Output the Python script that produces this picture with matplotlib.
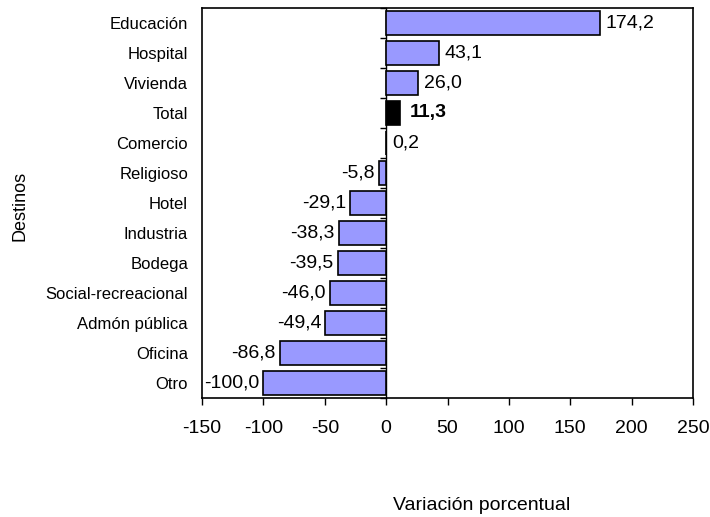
import matplotlib
matplotlib.use("Agg")
import matplotlib.pyplot as plt

plt.rcParams['font.family'] = ['Liberation Sans', 'DejaVu Sans']

categories = ["Educación", "Hospital", "Vivienda", "Total", "Comercio", "Religioso",
              "Hotel", "Industria", "Bodega", "Social-recreacional", "Admón pública",
              "Oficina", "Otro"]
values = [174.2, 43.1, 26.0, 11.3, 0.2, -5.8, -29.1, -38.3, -39.5, -46.0, -49.4, -86.8, -100.0]
x_ticks = [-150, -100, -50, 0, 50, 100, 150, 200, 250]
x_label = "Variación porcentual"
y_label = "Destinos"
highlight = "Total"

fig = plt.figure(figsize=(7.10, 5.17), dpi=100)
ax = fig.add_axes([202/710, 1-398/517, (693-202)/710, (398-8)/517])

ypos = list(range(len(categories)))
colors = ['black' if c == highlight else '#9999FF' for c in categories]
ax.barh(ypos, values, height=0.8, color=colors, edgecolor='black', linewidth=1.2, zorder=3)

ax.set_xlim(-150, 250)
ax.set_ylim(len(categories)-0.5, -0.5)
ax.set_xticks(x_ticks)
ax.set_xticklabels([str(t) for t in x_ticks], fontsize=14)
ax.tick_params(axis='x', direction='out', length=5, width=1, pad=11)
ax.set_yticks(ypos)
ax.set_yticklabels(categories, fontsize=12)
ax.tick_params(axis='y', length=0, pad=10)
for s in ax.spines.values():
    s.set_linewidth(1.2)

# category axis at x=0 with boundary ticks
sec = ax.secondary_yaxis((0 - (-150)) / 400)
sec.set_yticks([i - 0.5 for i in range(len(categories) + 1)])
sec.set_yticklabels([])
sec.tick_params(axis='y', direction='out', length=4, width=1)
sec.spines['left'].set_linewidth(1.0)

for y, v, c in zip(ypos, values, categories):
    txt = f"{v:.1f}".replace('.', ',')
    bold = (c == highlight)
    if v >= 0:
        ax.annotate(txt, (v, y), xytext=(7 if bold else 4, 0), textcoords='offset points',
                    ha='left', va='center', fontsize=14,
                    fontweight='bold' if bold else 'normal')
    else:
        ax.annotate(txt, (v, y), xytext=(-3, 0), textcoords='offset points',
                    ha='right', va='center', fontsize=14)

fig.text(482/710, 1-505/517, x_label, ha='center', va='center', fontsize=14)
fig.text(20/710, 1-206/517, y_label, ha='center', va='center', rotation=90, fontsize=13)

fig.savefig("out.png", dpi=100)
